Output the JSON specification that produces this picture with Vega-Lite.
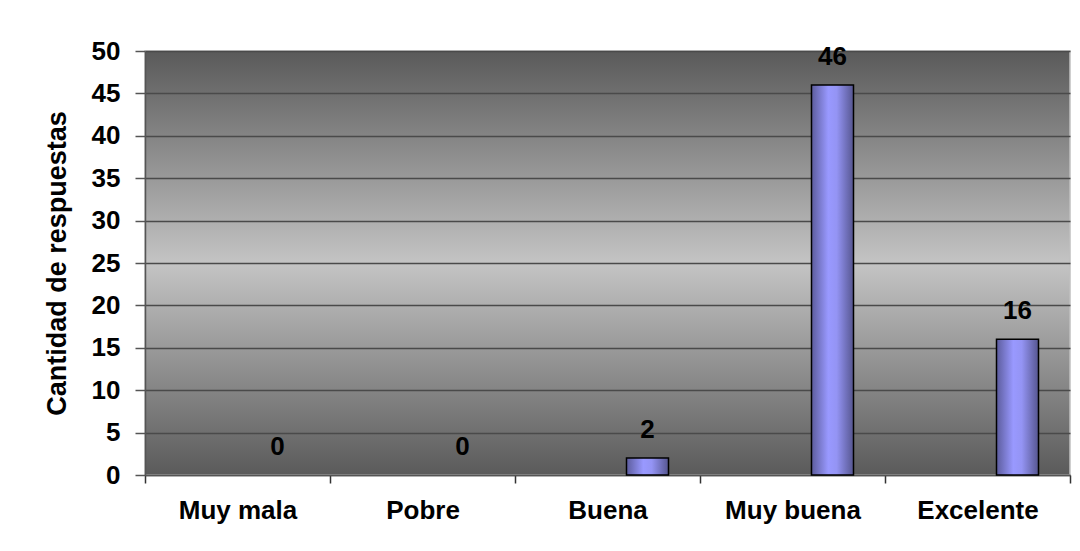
{
  "$schema": "https://vega.github.io/schema/vega-lite/v6.json",
  "width": 925,
  "height": 424,
  "autosize": {"type": "none"},
  "padding": {"left": 145, "top": 51, "right": 10, "bottom": 76},
  "background": "white",
  "data": {
    "values": [
      {"calificacion": "Muy mala", "respuestas": 0},
      {"calificacion": "Pobre", "respuestas": 0},
      {"calificacion": "Buena", "respuestas": 2},
      {"calificacion": "Muy buena", "respuestas": 46},
      {"calificacion": "Excelente", "respuestas": 16}
    ]
  },
  "config": {
    "font": "Liberation Sans",
    "view": {
      "stroke": "#c0c0c0",
      "strokeWidth": 1.5,
      "fill": {
        "gradient": "linear",
        "x1": 0, "y1": 0, "x2": 0, "y2": 1,
        "stops": [
          {"offset": 0, "color": "#5a5a5a"},
          {"offset": 0.5, "color": "#c4c4c4"},
          {"offset": 1, "color": "#5a5a5a"}
        ]
      }
    }
  },
  "encoding": {
    "x": {
      "field": "calificacion",
      "type": "nominal",
      "sort": null,
      "scale": {
        "domain": ["Muy mala", "Pobre", "Buena", "Muy buena", "Excelente"],
        "paddingInner": 0,
        "paddingOuter": 0
      },
      "axis": {
        "title": null,
        "labelAngle": 0,
        "labelFontSize": 26,
        "labelFontWeight": "bold",
        "labelColor": "black",
        "labelPadding": 14,
        "tickBand": "extent",
        "tickSize": 8,
        "tickColor": "#333333",
        "tickWidth": 1.5,
        "domainColor": "#555555",
        "domainWidth": 1.5,
        "grid": false
      }
    },
    "y": {
      "field": "respuestas",
      "type": "quantitative",
      "scale": {"domain": [0, 50], "nice": false},
      "axis": {
        "title": "Cantidad de respuestas",
        "titleFontSize": 27,
        "titleFontWeight": "bold",
        "titleColor": "black",
        "titlePadding": 20,
        "values": [0, 5, 10, 15, 20, 25, 30, 35, 40, 45, 50],
        "labelFontSize": 26,
        "labelFontWeight": "bold",
        "labelColor": "black",
        "labelPadding": 15,
        "tickSize": 10,
        "tickColor": "#555555",
        "tickWidth": 1.5,
        "domainColor": "#555555",
        "domainWidth": 1.5,
        "grid": true,
        "gridColor": "#4a4a4a",
        "gridWidth": 1.5,
        "gridOpacity": 1
      }
    }
  },
  "layer": [
    {
      "transform": [{"filter": "datum.respuestas > 0"}],
      "mark": {
        "type": "bar",
        "xOffset": 40,
        "width": {"band": 0.227},
        "stroke": "black",
        "strokeWidth": 1.5,
        "fill": {
          "gradient": "linear",
          "x1": 0, "y1": 0, "x2": 1, "y2": 0,
          "stops": [
            {"offset": 0, "color": "#5c5c9c"},
            {"offset": 0.4, "color": "#9999ff"},
            {"offset": 0.6, "color": "#9494f4"},
            {"offset": 1, "color": "#565690"}
          ]
        }
      }
    },
    {
      "mark": {
        "type": "text",
        "xOffset": 40,
        "dy": -20,
        "baseline": "alphabetic",
        "fontSize": 26,
        "fontWeight": "bold",
        "color": "black"
      },
      "encoding": {
        "text": {"field": "respuestas", "type": "quantitative"}
      }
    }
  ]
}
